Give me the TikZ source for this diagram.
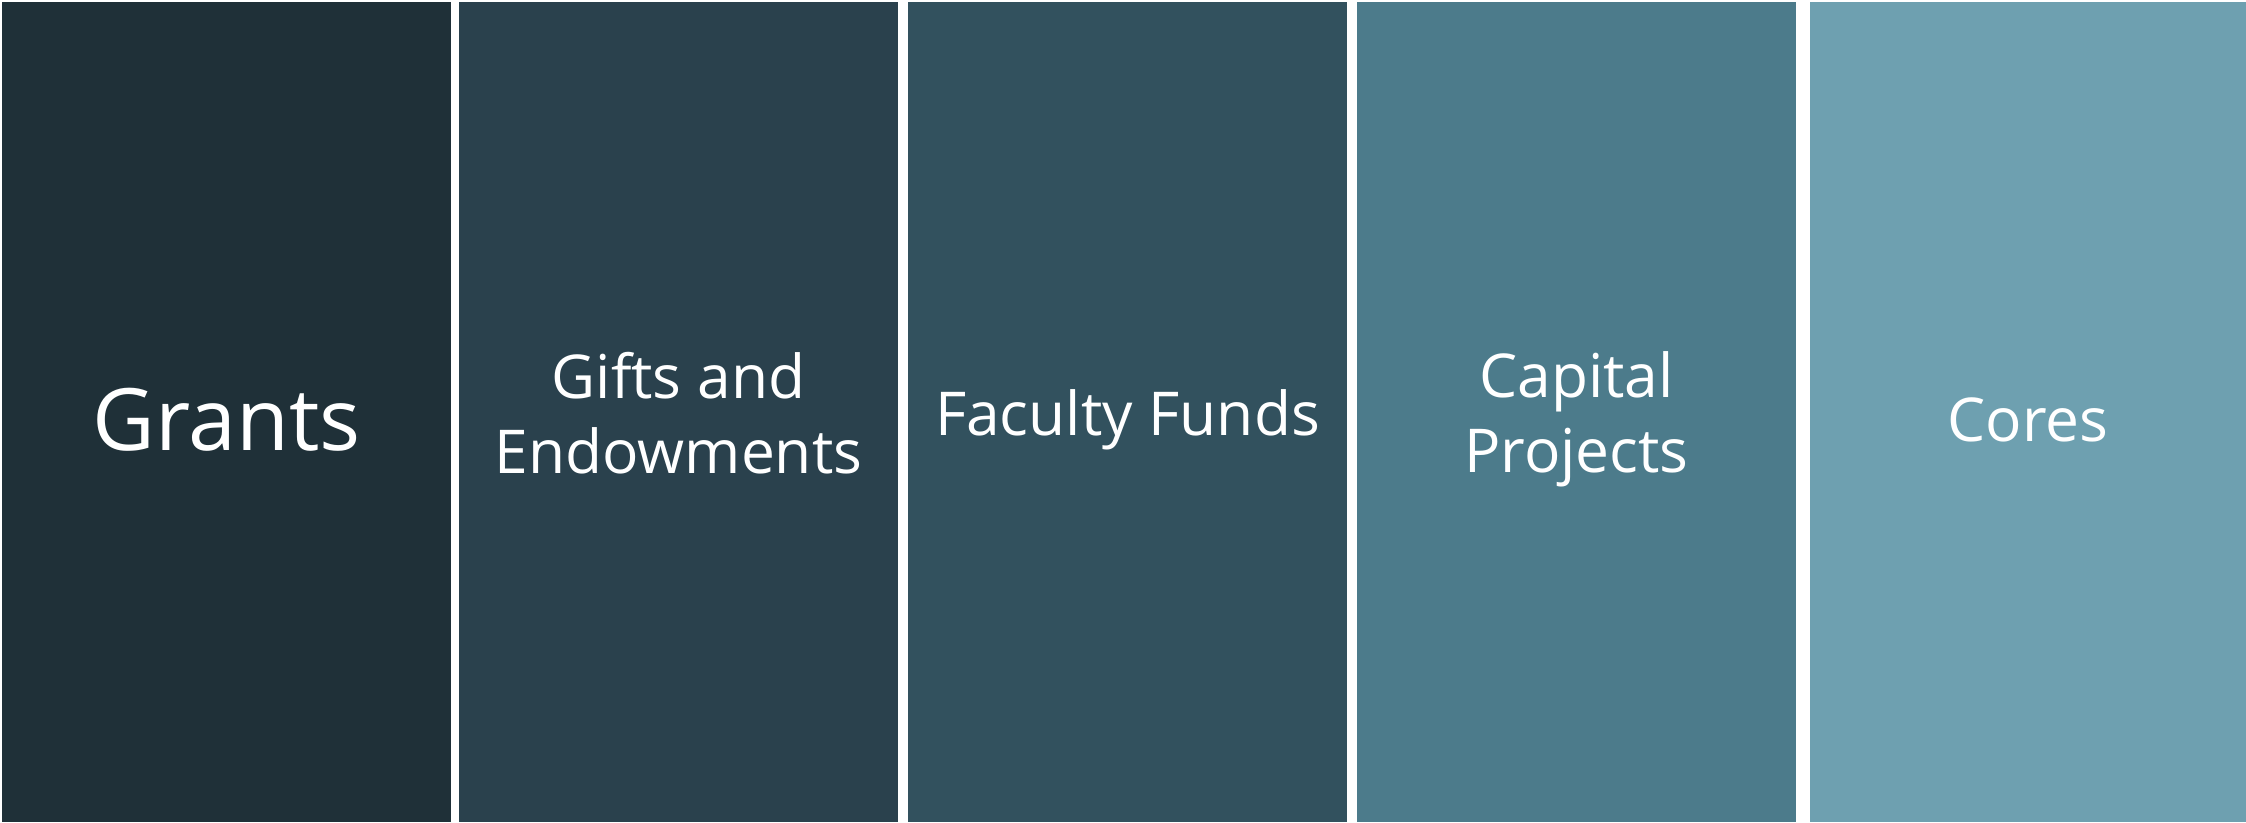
\documentclass[tikz,border=0pt]{standalone}
\usepackage{fontspec}
\setmainfont{Open Sans}
\usepackage{tikz}
\definecolor{grantsCol}{HTML}{1F3038}
\definecolor{giftsCol}{HTML}{2A414D}
\definecolor{facultyCol}{HTML}{32515E}
\definecolor{capitalCol}{HTML}{4C7B8B}
\definecolor{coresCol}{HTML}{6EA0B0}
\tikzset{
  fundlabel/.style={text=white, align=center, inner sep=0pt, font=\fontsize{17.2}{21.3}\selectfont},
}
\def\drawFundBar#1#2#3#4#5{
\fill[#3] (#1,0) rectangle (#2,8.20);
\coordinate (#4) at ({(#1+#2)/2},#5);
}

\begin{document}
\begin{tikzpicture}
	\useasboundingbox (0,0) rectangle (22.46,8.22);
	\fill[white] (0,0) rectangle (22.46,8.22);
	\drawFundBar{0.02}{4.51}{grantsCol}{C1}{4.02}
	\drawFundBar{4.59}{8.98}{giftsCol}{C2}{4.09}
	\drawFundBar{9.08}{13.47}{facultyCol}{C3}{4.02}
	\drawFundBar{13.57}{17.96}{capitalCol}{C4}{4.03}
	\drawFundBar{18.10}{22.46}{coresCol}{C5}{4.02}
	\node[fundlabel, font=\fontsize{24.5}{29}\selectfont] (grants) at (C1) {Grants};
	\node[fundlabel] (gifts) at (C2) {Gifts and\\Endowments};
	\node[fundlabel] (faculty) at (C3) {Faculty Funds};
	\node[fundlabel] (capital) at (C4) {Capital\\Projects};
	\node[fundlabel] (cores) at (C5) {Cores};
\end{tikzpicture}
\end{document}
